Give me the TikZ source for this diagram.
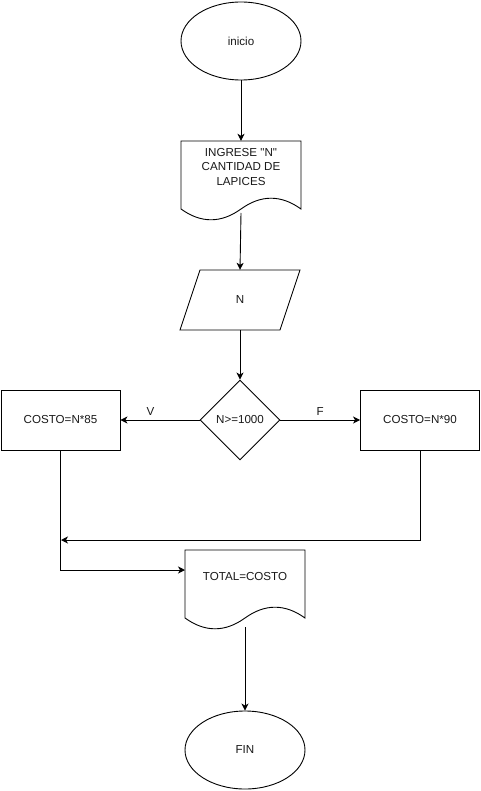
\documentclass[tikz,border=0pt]{standalone}
\usepackage{fontspec}
\setmainfont{Liberation Sans}[Ligatures=TeXOff]
\usetikzlibrary{shapes.geometric,arrows.meta}

\begin{document}
\begin{tikzpicture}[x=1pt,y=-1pt,
  every node/.style={font=\fontsize{11.6}{14.4}\selectfont, text=black!90},
  outline/.style={draw=black, line width=0.9pt},
  terminal/.style={outline, ellipse, minimum width=120pt, minimum height=78pt, inner sep=0pt},
  procbox/.style={outline, rectangle, minimum width=119pt, minimum height=60pt, inner sep=0pt},
  decision/.style={outline, diamond, aspect=1, minimum width=80pt, minimum height=80pt, inner sep=0pt},
  holder/.style={rectangle, inner sep=0pt},
  flow/.style={draw=black, line width=0.9pt, -{Stealth[length=7pt,width=7pt,inset=2pt]}}
]
\useasboundingbox (0,0) rectangle (481,791);

% start / end terminals
\node[terminal] (ini) at (241,41) {inicio};
\node[terminal] (fin) at (245,750) {FIN};

% input document: INGRESE "N"
\begin{scope}[shift={(181,141)}]
  \draw[outline] (0,0) -- (120,0) -- (120,68)
    .. controls (100,53.6) and (80,53.6) .. (60,68)
    .. controls (40,82.4) and (20,82.4) .. (0,68) -- cycle;
\end{scope}
\node[holder, minimum width=120pt, minimum height=80pt] (d1) at (241,181) {};
\node[holder, align=center] (d1text) at (241,167) {INGRESE "N"\\CANTIDAD DE\\LAPICES};
\coordinate (d1out) at (241,213);

% data input parallelogram
\draw[outline] (200,270) -- (300,270) -- (280,330) -- (180,330) -- cycle;
\node[holder, minimum width=100pt, minimum height=60pt] (par) at (240,300) {N};

% decision and branches
\node[decision] (dec) at (240,420) {N>=1000};
\node[procbox] (b85) at (60.5,420) {COSTO=N*85};
\node[procbox] (b90) at (420,420) {COSTO=N*90};

% output document: TOTAL=COSTO
\begin{scope}[shift={(185,550)}]
  \draw[outline] (0,0) -- (120,0) -- (120,68)
    .. controls (100,53.6) and (80,53.6) .. (60,68)
    .. controls (40,82.4) and (20,82.4) .. (0,68) -- cycle;
\end{scope}
\node[holder, minimum width=120pt, minimum height=80pt] (d2) at (245,590) {};
\node[holder] (d2text) at (245,577) {TOTAL=COSTO};
\coordinate (d2in) at (185,570);
\coordinate (d2out) at (245,627);
\coordinate (join) at (61,540);

% connectors
\draw[flow] (ini) -- (d1.north);
\draw[flow] (d1out) -- (par.north);
\draw[flow] (par.south) -- (dec.north);
\draw[flow] (dec.west) -- node[pos=0.62, above=1pt] (lv) {V} (b85.east);
\draw[flow] (dec.east) -- node[pos=0.5, above=1pt] (lf) {F} (b90.west);
\draw[flow] (b85.south) |- (d2in);
\draw[flow] (b90.south) |- (join);
\draw[flow] (d2out) -- (fin);
\end{tikzpicture}
\end{document}
